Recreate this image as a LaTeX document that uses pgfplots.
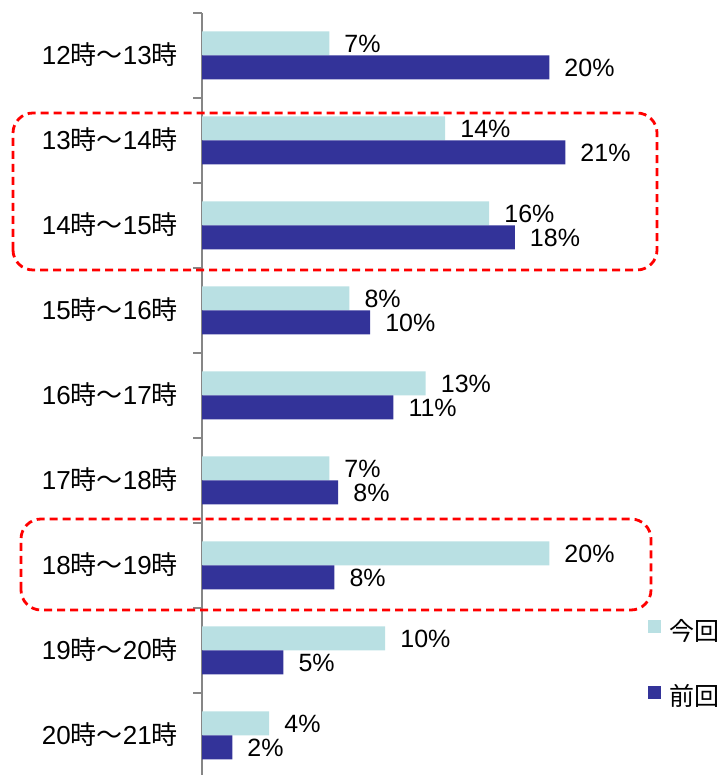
\documentclass[border=0pt]{standalone}
\usepackage{fontspec}
\setmainfont{Liberation Sans}
\newfontfamily\jp{Noto Sans CJK JP}
\usepackage{pgfplots}
\usepackage{pgfplotstable}
\pgfplotsset{compat=1.18}
\definecolor{curc}{RGB}{185,224,227}
\definecolor{prevc}{RGB}{51,51,153}
\definecolor{axgray}{RGB}{134,134,134}
\pgfplotstableread{
y cur prev lcur lprev
8 7.23 19.73 7 20
7 13.82 20.64 14 21
6 16.32 17.77 16 18
5 8.37 9.55 8 10
4 12.71 10.87 13 11
3 7.23 7.74 7 8
2 19.73 7.52 20 8
1 10.41 4.62 10 5
0 3.82 1.72 4 2
}\datatab
\newcommand{\bigfs}{\fontsize{25pt}{30pt}\selectfont}
\newcommand{\catfs}{\fontsize{26pt}{30pt}\selectfont}
\begin{document}
\begin{tikzpicture}
\begin{axis}[
  at={(202pt,-3pt)}, anchor=south west,
  scale only axis, width=528pt, height=765pt,
  xmin=0, xmax=30, ymin=-0.5, ymax=8.5,
  axis x line=none, xtick=\empty,
  axis y line*=left,
  y axis line style={-, draw=axgray, line width=1.5pt},
  ytick={0,...,8},
  yticklabels={
    20{\jp 時～}21{\jp 時},
    19{\jp 時～}20{\jp 時},
    18{\jp 時～}19{\jp 時},
    17{\jp 時～}18{\jp 時},
    16{\jp 時～}17{\jp 時},
    15{\jp 時～}16{\jp 時},
    14{\jp 時～}15{\jp 時},
    13{\jp 時～}14{\jp 時},
    12{\jp 時～}13{\jp 時}},
  minor ytick={-0.5,0.5,...,8.5},
  major tick length=0pt, minor tick length=9pt, tick align=outside,
  tick style={draw=axgray, line width=1.5pt},
  yticklabel style={font=\catfs, anchor=east, inner sep=0pt, xshift=-24pt, text height=18.6pt, text depth=0pt},
  xbar, bar width=24pt,
  clip=false,
  point meta=explicit symbolic,
  nodes near coords={\pgfplotspointmeta\%},
  every node near coord/.append style={font=\bigfs, anchor=west, inner sep=0pt, xshift=15pt, text height=17.9pt, text depth=0pt, text=black},
  legend image code/.code={\fill[#1] (0pt,-3pt) rectangle (13.4pt,10.4pt);},
  legend style={at={(axis description cs:0.8447,0.2078)}, anchor=north west,
    draw=none, fill=none, inner sep=0pt, outer sep=0pt, row sep=43pt,
    font=\bigfs\jp, nodes={inner sep=0pt},
    /tikz/every odd column/.append style={column sep=8pt}},
  legend cell align=left,
]
\addplot[fill=curc, draw=none, bar shift=12pt] table[x=cur, y=y, meta=lcur] {\datatab};
\addplot[fill=prevc, draw=none, bar shift=-12pt] table[x=prev, y=y, meta=lprev] {\datatab};
\legend{今回,前回}
\end{axis}
\draw[red, line width=2.8pt, dash pattern=on 8pt off 5pt, rounded corners=20pt]
  (13pt,505pt) rectangle (657pt,662pt);
\draw[red, line width=2.8pt, dash pattern=on 8pt off 5pt, rounded corners=20pt]
  (21pt,165pt) rectangle (651pt,256pt);
\pgfresetboundingbox
\path[use as bounding box] (0pt,0pt) rectangle (721pt,775pt);
\end{tikzpicture}
\end{document}
